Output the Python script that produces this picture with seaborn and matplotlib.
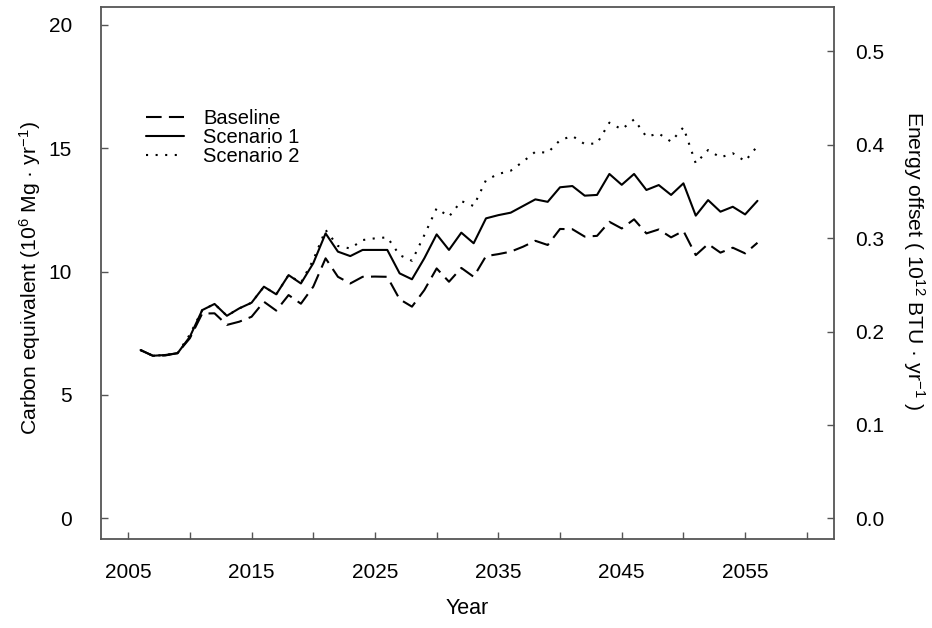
import numpy as np
import pandas as pd
import matplotlib
matplotlib.use("Agg")
import matplotlib.pyplot as plt
import seaborn as sns

years = list(range(2006, 2057))

baseline = [6.82, 6.59, 6.60, 6.70, 7.30, 8.30, 8.31, 7.84, 7.97, 8.17,
            8.78, 8.42, 9.05, 8.70, 9.39, 10.54, 9.79, 9.52, 9.79, 9.80,
            9.79, 8.88, 8.58, 9.25, 10.13, 9.59, 10.15, 9.79, 10.63, 10.71,
            10.81, 11.01, 11.25, 11.08, 11.73, 11.72, 11.42, 11.45, 12.02, 11.75,
            12.12, 11.55, 11.71, 11.39, 11.65, 10.67, 11.12, 10.77, 10.97, 10.74,
            11.17]

scenario1 = [6.82, 6.59, 6.62, 6.69, 7.36, 8.44, 8.69, 8.21, 8.51, 8.74,
             9.39, 9.08, 9.86, 9.52, 10.34, 11.55, 10.81, 10.63, 10.88, 10.88,
             10.88, 9.93, 9.69, 10.54, 11.51, 10.88, 11.58, 11.15, 12.16, 12.29,
             12.39, 12.66, 12.93, 12.83, 13.42, 13.47, 13.08, 13.11, 13.96, 13.52,
             13.96, 13.31, 13.51, 13.11, 13.58, 12.27, 12.90, 12.43, 12.63, 12.32,
             12.87]

scenario2 = [6.82, 6.59, 6.62, 6.69, 7.45, 8.44, 8.69, 8.21, 8.51, 8.74,
             9.39, 9.08, 9.86, 9.55, 10.47, 11.69, 11.04, 10.94, 11.28, 11.35,
             11.39, 10.67, 10.44, 11.48, 12.57, 12.23, 12.86, 12.66, 13.71, 13.96,
             14.09, 14.46, 14.86, 14.82, 15.33, 15.50, 15.17, 15.20, 16.04, 15.77,
             16.17, 15.47, 15.60, 15.27, 15.85, 14.39, 14.93, 14.63, 14.80, 14.48,
             15.09]

series_names = ["Baseline", "Scenario 1", "Scenario 2"]

x_ticks_major = list(range(2005, 2061, 5))
x_tick_labels = [str(y) if (y - 2005) % 10 == 0 else "" for y in x_ticks_major]
left_ticks = [0, 5, 10, 15, 20]
right_ticks = [0.0, 0.1, 0.2, 0.3, 0.4, 0.5]

# carbon (10^6 Mg/yr) per unit of energy offset (10^12 BTU/yr)
carbon_per_energy = 37.86

df = pd.DataFrame({
    "Year": years * 3,
    "Value": baseline + scenario1 + scenario2,
    "Series": sum([[n] * len(years) for n in series_names], []),
})

sns.set_style("ticks")
plt.rcParams["font.family"] = ["Liberation Sans", "DejaVu Sans"]
plt.rcParams["mathtext.fontset"] = "custom"
plt.rcParams["mathtext.rm"] = "Liberation Sans"
plt.rcParams["mathtext.it"] = "Liberation Sans"
plt.rcParams["text.color"] = "black"
plt.rcParams["axes.labelcolor"] = "black"

fig = plt.figure(figsize=(9.32, 6.28), dpi=100)
ax = fig.add_axes([0.1084, 0.1417, 0.7864, 0.8472])

dash_styles = {
    "Baseline": (7.5, 3.5),
    "Scenario 1": "",
    "Scenario 2": (1, 3.6),
}
sns.lineplot(data=df, x="Year", y="Value", style="Series", dashes=dash_styles,
             color="black", linewidth=1.5, ax=ax, legend=True)

ylim = (-0.84, 20.73)
ax.set_xlim(2002.8, 2062.2)
ax.set_ylim(*ylim)
ax.set_xticks(x_ticks_major)
ax.set_xticklabels(x_tick_labels)
ax.set_yticks(left_ticks)
ax.set_yticklabels([str(t) for t in left_ticks])

spine_col = "#555555"
for s in ax.spines.values():
    s.set_visible(True)
    s.set_color(spine_col)
    s.set_linewidth(1.3)

ax.tick_params(axis="x", direction="in", length=5, width=1, color=spine_col,
               labelcolor="black", labelsize=15, pad=17)
ax.tick_params(axis="y", direction="in", length=5, width=1, color=spine_col,
               labelcolor="black", labelsize=15, pad=21, right=False)

ax.set_xlabel("Year", fontsize=15.5, labelpad=12)
ax.set_ylabel("Carbon equivalent (10$^{6}$ Mg · yr$^{-1}$)", fontsize=15.2, labelpad=4)
ax.yaxis.label.set_y(0.49)

ax2 = ax.twinx()
ax2.set_ylim(ylim[0] / carbon_per_energy, ylim[1] / carbon_per_energy)
ax2.set_yticks(right_ticks)
ax2.set_yticklabels([f"{t:.1f}" for t in right_ticks])
ax2.tick_params(axis="y", direction="in", length=5, width=1, color=spine_col,
                labelcolor="black", labelsize=15, pad=15)
for s in ax2.spines.values():
    s.set_visible(False)
ax2.set_ylabel("Energy offset ( 10$^{12}$ BTU · yr$^{-1}$ )", fontsize=15.2,
               rotation=270, labelpad=31)
ax2.yaxis.label.set_y(0.523)

leg = ax.legend(loc="upper left", bbox_to_anchor=(0.05, 0.823), frameon=False,
                fontsize=14.5, handlelength=1.9, handletextpad=0.95, labelspacing=0.0,
                borderaxespad=0)
for line in leg.get_lines():
    line.set_linewidth(1.5)

fig.savefig("out.png", dpi=100)
